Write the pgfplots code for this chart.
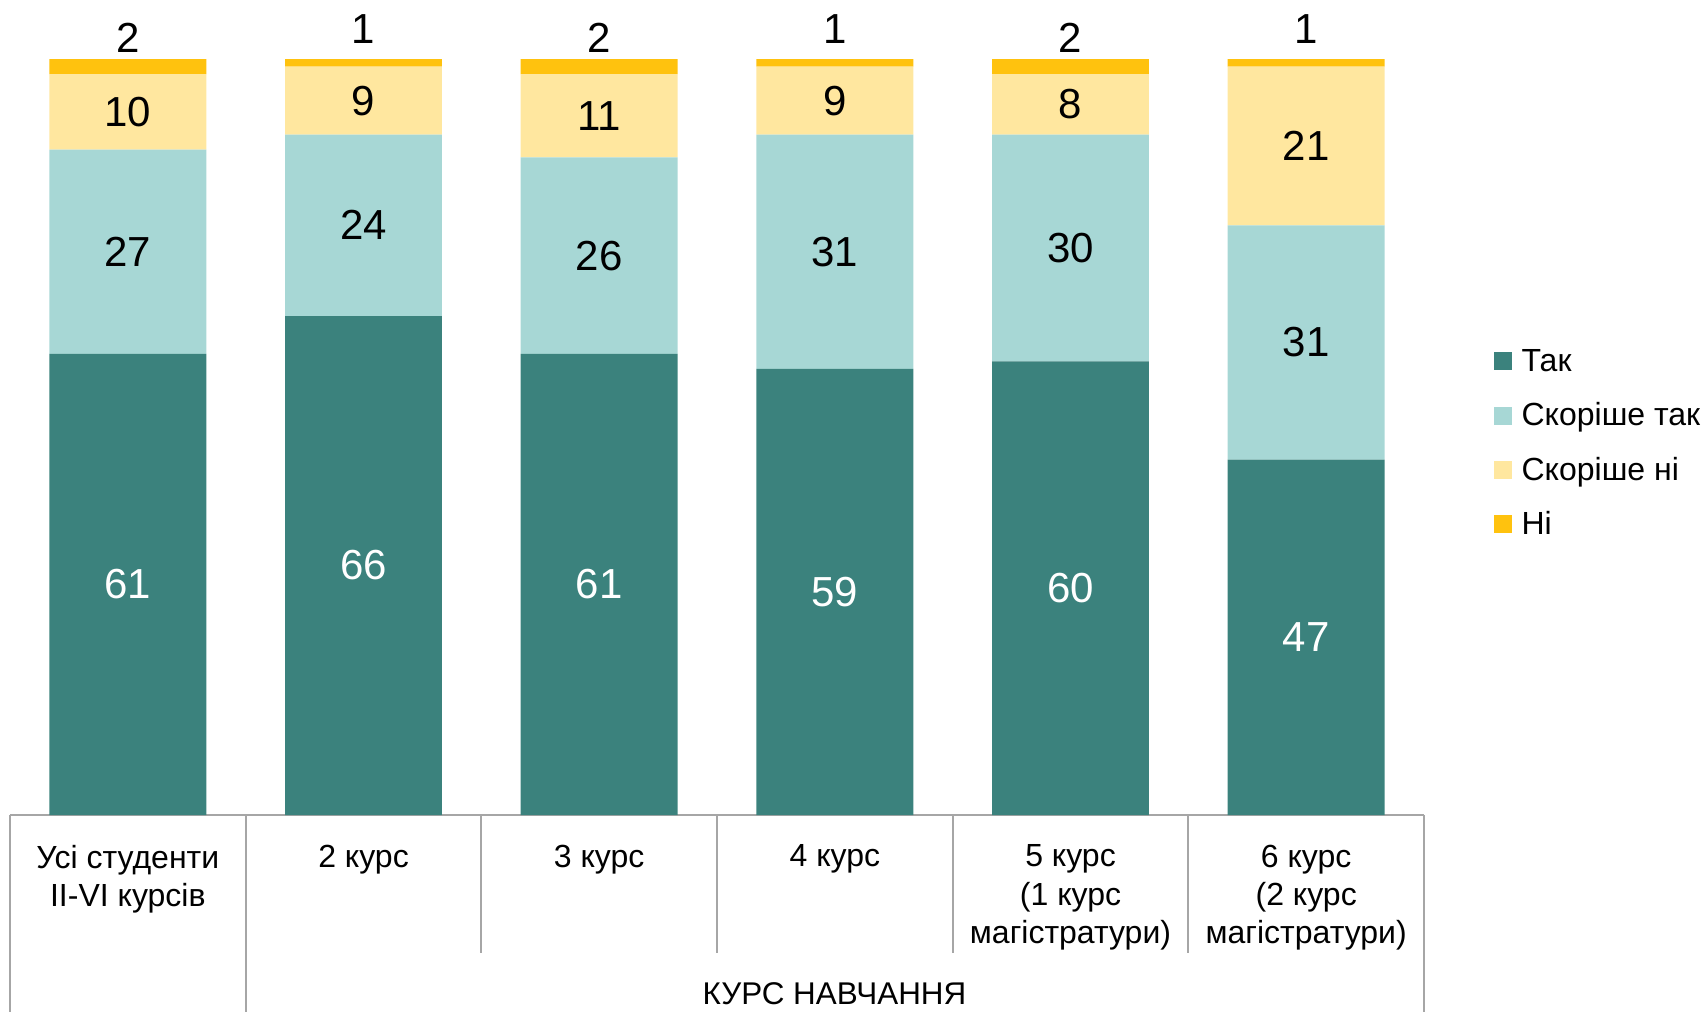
\documentclass[border=0pt]{standalone}
\usepackage{fontspec}
\setmainfont{Liberation Sans}
\usepackage{pgfplots}
\usepackage{pgfplotstable}
\pgfplotsset{compat=1.18}
\definecolor{cTak}{HTML}{3B827D}
\definecolor{cST}{HTML}{A7D7D5}
\definecolor{cSN}{HTML}{FFE79F}
\definecolor{cNi}{HTML}{FFC20E}
\definecolor{gridc}{HTML}{A6A6A6}
\pgfplotsset{sqlegend/.style={legend image code/.code={\fill[##1, draw=none] (0pt,-2.0pt) rectangle (4.5pt,2.5pt);}}}

\pgfplotstableread{
x tak st sn ni
0 61 27 10 2
1 66 24 9 1
2 61 26 11 2
3 59 31 9 1
4 60 30 8 2
5 47 31 21 1
}\datatable

\pgfplotstableread{
x y lab
0 30.5 61
1 33.0 66
2 30.5 61
3 29.5 59
4 30.0 60
5 23.5 47
}\labtak
\pgfplotstableread{
x y lab
0 74.5 27
1 78.0 24
2 74.0 26
3 74.5 31
4 75.0 30
5 62.5 31
}\labst
\pgfplotstableread{
x y lab
0 93.0 10
1 94.5 9
2 92.5 11
3 94.5 9
4 94.0 8
5 88.5 21
}\labsn
\pgfplotstableread{
x y lab
0 102.8 2
1 103.9 1
2 102.8 2
3 103.9 1
4 102.8 2
5 103.9 1
}\labni

\begin{document}
\begin{tikzpicture}
\useasboundingbox (-2.5pt,-49pt) rectangle (424.5pt,203.75pt);
\begin{axis}[
  at={(0,0)}, anchor=south west,
  scale only axis, width=353.5pt, height=189pt,
  xmin=-0.5, xmax=5.5, ymin=0, ymax=100,
  ybar stacked, bar width=0.666,
  clip=false,
  axis line style={draw=none},
  ytick=\empty,
  xtick={0,1,2,3,4,5},
  major tick length=0pt,
  tick style={draw=none},
  xticklabels={{Усі студенти\\II-VI курсів},{2 курс},{3 курс},{4 курс},{5 курс\\(1 курс\\магістратури)},{6 курс\\(2 курс\\магістратури)}},
  xticklabel style={align=center, anchor=north, inner sep=0pt, yshift=-7.25pt, font=\fontsize{8}{9.6}\selectfont},
  xlabel={КУРС НАВЧАННЯ},
  xlabel style={at={(axis description cs:0.5831,0)}, anchor=base, yshift=-47.25pt, inner sep=0pt, font=\fontsize{7.85}{9.25}\selectfont},
  legend style={at={(1.0495,0.491)}, anchor=west, draw=none, fill=none, inner sep=0pt, outer sep=0pt,
    row sep=5.8pt, column sep=2.4pt, font=\fontsize{8}{9.5}\selectfont,
    nodes={inner sep=0pt, text height=6.2pt, text depth=1.6pt}},
  legend cell align=left,
]
\addplot[fill=cTak, draw=none, sqlegend] table[x=x, y=tak] {\datatable};
\addplot[fill=cST, draw=none, sqlegend] table[x=x, y=st] {\datatable};
\addplot[fill=cSN, draw=none, sqlegend] table[x=x, y=sn] {\datatable};
\addplot[fill=cNi, draw=none, sqlegend] table[x=x, y=ni] {\datatable};
\legend{Так, Скоріше так, Скоріше ні, Ні}
\draw[gridc, line width=0.5pt] (axis cs:-0.5,0) -- (axis cs:5.5,0);
\draw[gridc, line width=0.5pt] (axis cs:-0.5,0) -- (axis cs:-0.5,-27);
\draw[gridc, line width=0.5pt] (axis cs:0.5,0) -- (axis cs:0.5,-27);
\draw[gridc, line width=0.5pt] (axis cs:5.5,0) -- (axis cs:5.5,-27);
\draw[gridc, line width=0.5pt] (axis cs:1.5,0) -- (axis cs:1.5,-18.2);
\draw[gridc, line width=0.5pt] (axis cs:2.5,0) -- (axis cs:2.5,-18.2);
\draw[gridc, line width=0.5pt] (axis cs:3.5,0) -- (axis cs:3.5,-18.2);
\draw[gridc, line width=0.5pt] (axis cs:4.5,0) -- (axis cs:4.5,-18.2);
\end{axis}
\begin{axis}[
  at={(0,0)}, anchor=south west,
  scale only axis, width=353.5pt, height=189pt,
  xmin=-0.5, xmax=5.5, ymin=0, ymax=100,
  hide axis, clip=false,
  nodes near coords, point meta=explicit symbolic,
  every node near coord/.append style={anchor=center, inner sep=0pt, font=\fontsize{10.5}{12}\selectfont},
]
\addplot[draw=none, mark=none, every node near coord/.append style={text=white}] table[x=x, y=y, meta=lab] {\labtak};
\addplot[draw=none, mark=none, every node near coord/.append style={text=black}] table[x=x, y=y, meta=lab] {\labst};
\addplot[draw=none, mark=none, every node near coord/.append style={text=black}] table[x=x, y=y, meta=lab] {\labsn};
\addplot[draw=none, mark=none, every node near coord/.append style={text=black}] table[x=x, y=y, meta=lab] {\labni};
\end{axis}
\end{tikzpicture}
\end{document}
